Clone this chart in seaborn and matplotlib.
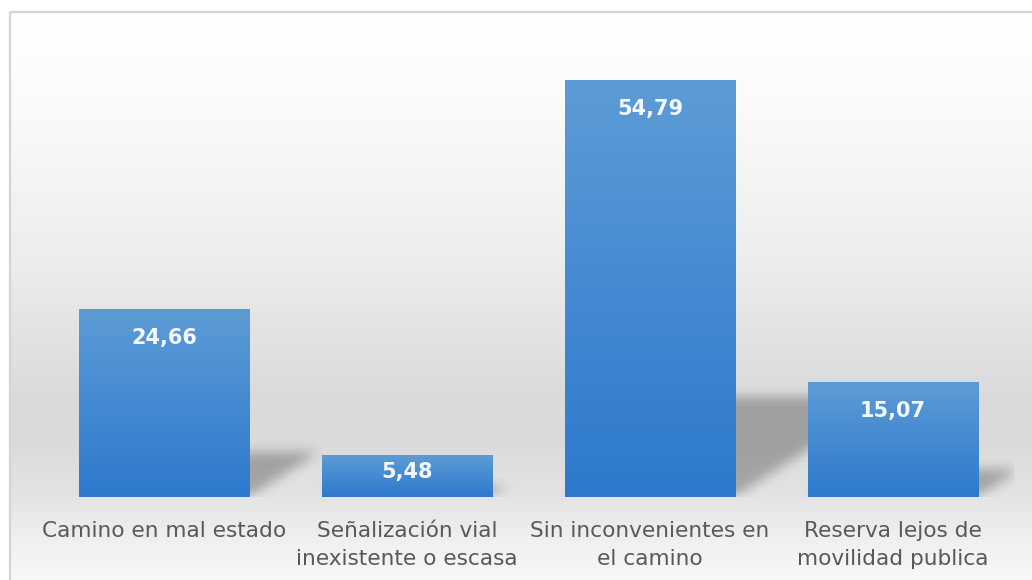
import numpy as np
import matplotlib
matplotlib.use("Agg")
import matplotlib.pyplot as plt
import seaborn as sns
from matplotlib.colors import LinearSegmentedColormap
from matplotlib.patches import Rectangle

categories = ["Camino en mal estado",
              "Señalización vial\ninexistente o escasa",
              "Sin inconvenientes en\nel camino",
              "Reserva lejos de\nmovilidad publica"]
values = [24.66, 5.48, 54.79, 15.07]
value_labels = [f"{v:.2f}".replace(".", ",") for v in values]

sns.set_theme(style="white")
plt.rcParams["font.family"] = ["DejaVu Sans"]

W, H = 1032, 580
fig = plt.figure(figsize=(W / 100, H / 100), dpi=100)
fig.patch.set_facecolor("white")

# ---- background panel with vertical gradient ----
bg = fig.add_axes([0, 0, 1, 1], zorder=0)
bg.set_xlim(0, W)
bg.set_ylim(H, 0)
bg.axis("off")
ys = np.arange(12, H) + 0.5
stops_y = [12, 100, 250, 400, 440, 497, 540, 580]
stops_g = [255, 251, 238, 218, 218, 228, 240, 248]
g = np.interp(ys, stops_y, stops_g) / 255.0
ncols = W - 10
img = np.repeat(g[:, None], ncols, axis=1)
img = np.dstack([img, img, img])
bg.imshow(img, extent=[10, W, H, 12], aspect="auto", interpolation="nearest", zorder=0)
bg.add_patch(Rectangle((10, 12), W + 20, H + 20, fill=False, edgecolor="#d4d4d4", lw=1.6, zorder=1))

# ---- main axes ----
ymax = 60
ax = fig.add_axes([42.5 / W, 83 / H, 972 / W, (ymax * 7.61) / H], zorder=1)
ax.patch.set_alpha(0)
sns.barplot(x=list(range(len(values))), y=values, ax=ax, width=0.7, color="#4a8bd3",
            saturation=1, edgecolor="none", zorder=3)
ax.set_xlim(-0.5, len(values) - 0.5)
ax.set_ylim(0, ymax)
for s in ax.spines.values():
    s.set_visible(False)
ax.set_yticks([])
ax.set_ylabel("")
ax.set_xticks(range(len(categories)))
ax.set_xticklabels(categories, fontsize=15.6, color="#595959", linespacing=1.55)
ax.tick_params(axis="x", length=0, pad=17)

# pixel scale
px_per_unit = 7.61
px_per_cat = 243.0

# ---- soft perspective shadows ----
nx, ny = 972, 457
gx = np.linspace(-0.5, len(values) - 0.5, nx)
gy = np.linspace(0, ymax, ny)
XX, YY = np.meshgrid(gx, gy)
mask = np.zeros((ny, nx))
for i, v in enumerate(values):
    xl, xr = i - 0.35, i + 0.35
    h = 0.24 * v
    s = 0.37 * v * px_per_unit / px_per_cat
    t = np.clip(YY / h, 0, 1)
    inside = (YY <= h) & (XX >= xl + s * t) & (XX <= xr + s * t)
    mask = np.maximum(mask, inside.astype(float))

def box_blur(a, r, axis):
    k = np.ones(2 * r + 1) / (2 * r + 1)
    return np.apply_along_axis(lambda m: np.convolve(m, k, mode="same"), axis, a)

for _ in range(3):
    mask = box_blur(mask, 5, 0)
    mask = box_blur(mask, 5, 1)
mask = np.clip(mask, 0, 1)
mask[mask < 2e-3] = 0

shadow = np.zeros((ny, nx, 4))
shadow[..., 3] = mask * 0.27
ax.imshow(shadow, extent=[-0.5, len(values) - 0.5, 0, ymax], origin="lower",
          aspect="auto", zorder=2, interpolation="nearest")

# ---- gradient fill on bars ----
bar_cmap = LinearSegmentedColormap.from_list("bar", ["#2e79cd", "#5c9cd6"])
grad = np.linspace(0, 1, 256)[:, None]
for p in ax.patches:
    x0, y0 = p.get_x(), p.get_y()
    w, hgt = p.get_width(), p.get_height()
    im = ax.imshow(grad, cmap=bar_cmap, extent=[x0, x0 + w, y0, y0 + hgt], origin="lower",
                   aspect="auto", zorder=4, interpolation="bicubic")
    im.set_clip_path(p)

ax.set_xlim(-0.5, len(values) - 0.5)
ax.set_ylim(0, ymax)

# ---- value labels ----
for i, (v, lab) in enumerate(zip(values, value_labels)):
    hpx = v * px_per_unit
    off = min(29.0, 0.4 * hpx) / px_per_unit
    ax.text(i, v - off, lab, ha="center", va="center", fontsize=15, fontweight="bold",
            color="#f4f8fc", zorder=6)

fig.savefig("out.png", dpi=100)
